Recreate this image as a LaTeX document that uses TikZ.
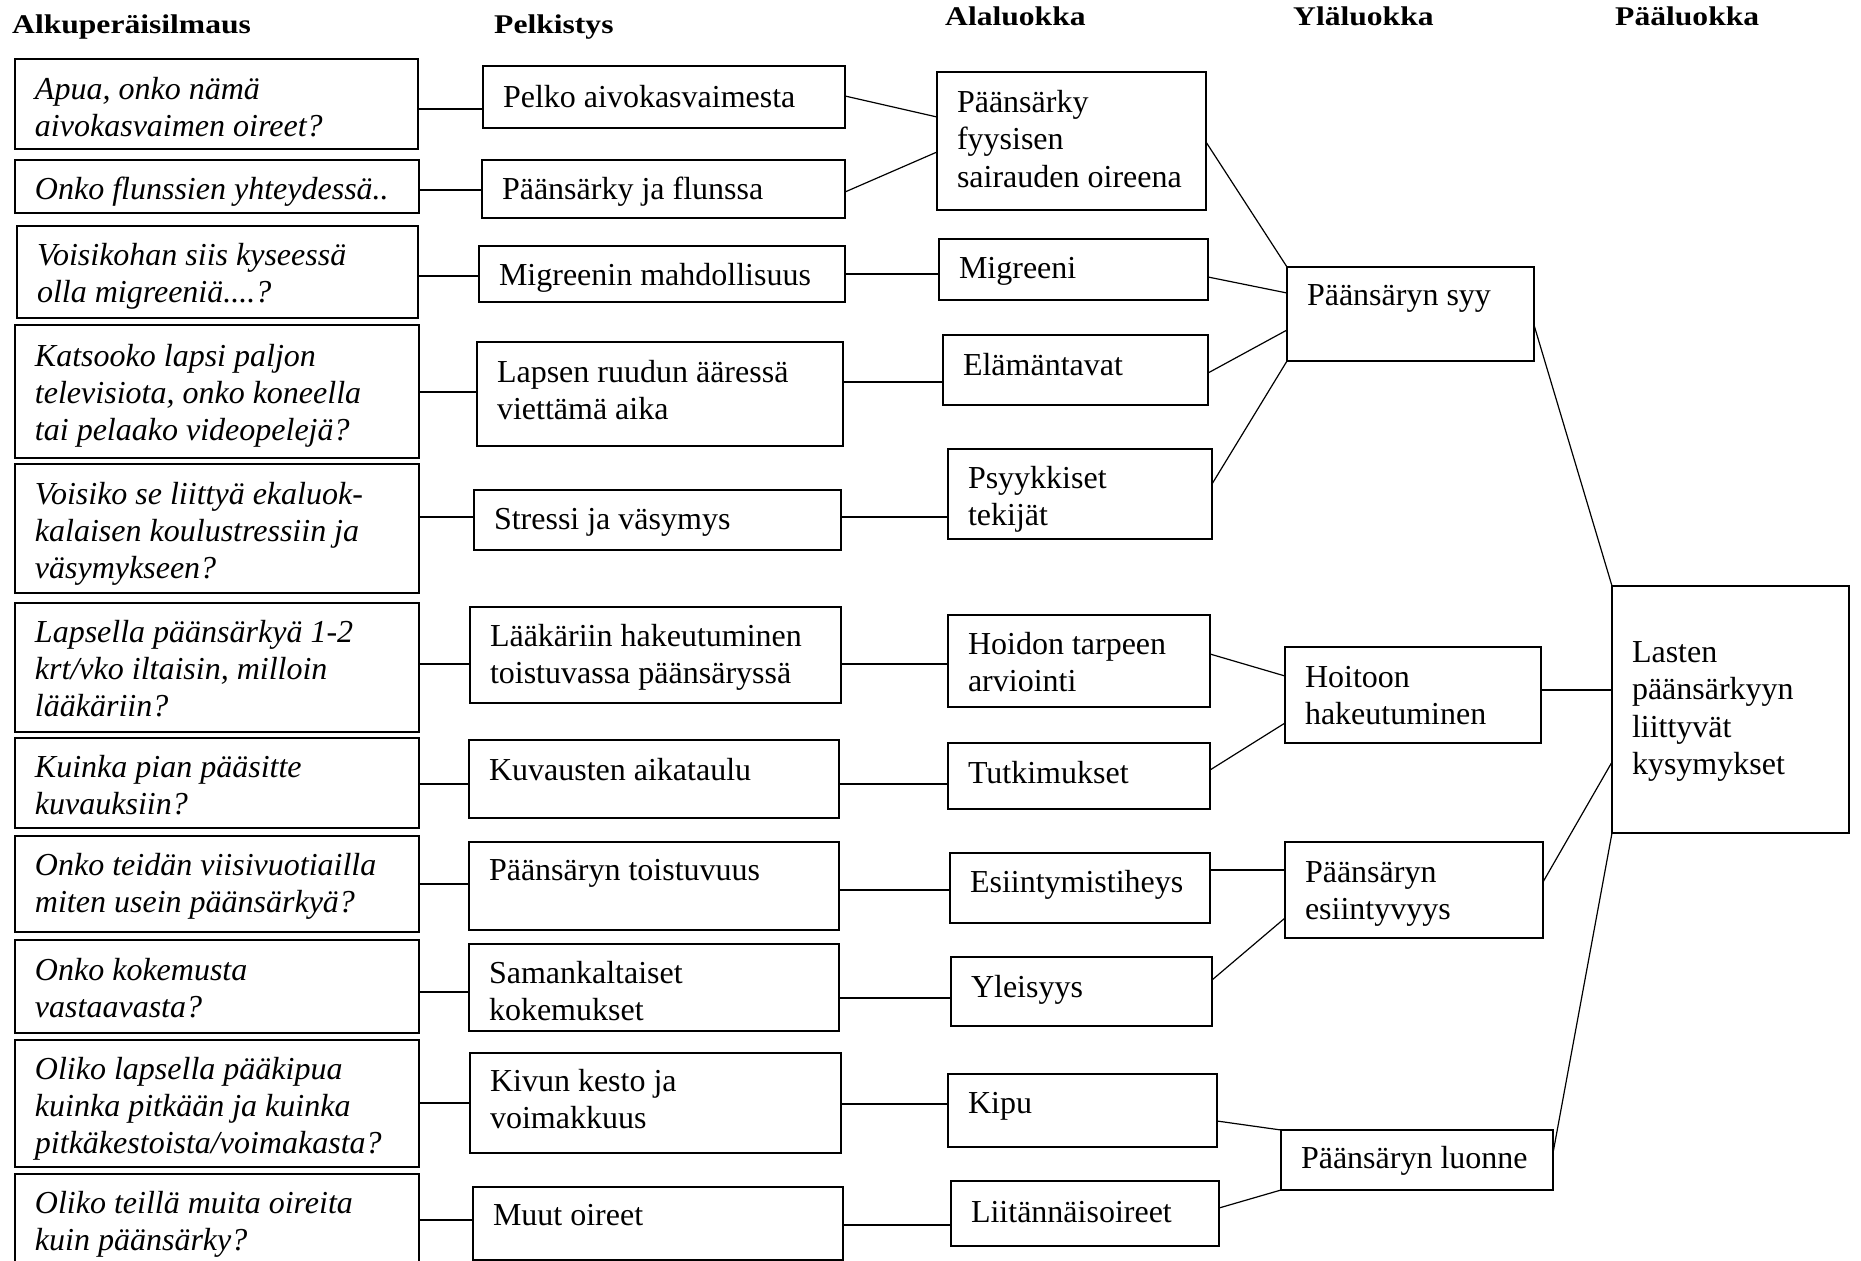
\documentclass[tikz,border=0pt]{standalone}
\usepackage{fontspec}
\setmainfont{Liberation Serif}
\newfontfamily\headfont{Liberation Serif}[FakeStretch=1.17]
\tikzset{
 boxst/.style={draw, line width=1.3pt, inner sep=0pt, outer sep=0pt, anchor=north west, font=\fontsize{32}{37.5}\selectfont},
 qbox/.style={boxst, font=\fontsize{32}{37}\selectfont\itshape},
 hline/.style={line width=1.6pt},
 dline/.style={line width=1.2pt},
 head/.style={anchor=base west, inner sep=0pt, font=\headfont\bfseries\fontsize{27}{30}\selectfont}
}
\newcommand{\bx}[8]{\node[#1] (#2) at (#3,#4) {\parbox[t][\dimexpr #6pt-#4pt\relax][t]{\dimexpr #5pt-#3pt\relax}{\raggedright\leftskip=20pt\rule{0pt}{#7pt}#8}};}
\begin{document}
\begin{tikzpicture}[x=1pt,y=-1pt]
\useasboundingbox (0,0) rectangle (1861,1261);
\fill[white] (0,0) rectangle (1861,1261);
% headings
\node[head] (h1) at (12,33) {Alkuperäisilmaus};
\node[head] (h2) at (494,33) {Pelkistys};
\node[head] (h3) at (945,25) {Alaluokka};
\node[head] (h4) at (1293,25) {Yläluokka};
\node[head] (h5) at (1615,25) {Pääluokka};
% original expressions
\bx{qbox}{A1}{15}{59}{418}{149}{40}{Apua, onko nämä\\aivokasvaimen oireet?}
\bx{qbox}{A2}{15}{160}{419}{213}{39}{Onko flunssien yhteydessä..}
\bx{qbox}{A3}{17}{226}{418}{318}{39}{Voisikohan siis kyseessä\\olla migreeniä....?}
\bx{qbox}{A4}{15}{325}{419}{458}{41}{Katsooko lapsi paljon\\televisiota, onko koneella\\tai pelaako videopelejä?}
\bx{qbox}{A5}{15}{464}{419}{593}{40}{Voisiko se liittyä ekaluok-\\kalaisen koulustressiin ja\\väsymykseen?}
\bx{qbox}{A6}{15}{603}{419}{732}{39}{Lapsella päänsärkyä 1-2\\krt/vko iltaisin, milloin\\lääkäriin?}
\bx{qbox}{A7}{15}{738}{419}{828}{39}{Kuinka pian pääsitte\\kuvauksiin?}
\bx{qbox}{A8}{15}{836}{419}{932}{39}{Onko teidän viisivuotiailla\\miten usein päänsärkyä?}
\bx{qbox}{A9}{15}{940}{419}{1033}{40}{Onko kokemusta\\vastaavasta?}
\bx{qbox}{A10}{15}{1040}{419}{1167}{39}{Oliko lapsella pääkipua\\kuinka pitkään ja kuinka\\pitkäkestoista/voimakasta?}
\bx{qbox}{A11}{15}{1174}{419}{1270}{39}{Oliko teillä muita oireita\\kuin päänsärky?}
% reductions
\bx{boxst}{P1}{483}{66}{845}{128}{41}{Pelko aivokasvaimesta}
\bx{boxst}{P2}{482}{160}{845}{218}{39}{Päänsärky ja flunssa}
\bx{boxst}{P3}{479}{246}{845}{302}{39}{Migreenin mahdollisuus}
\bx{boxst}{P4}{477}{342}{843}{446}{40}{Lapsen ruudun ääressä\\viettämä aika}
\bx{boxst}{P5}{474}{490}{841}{550}{39}{Stressi ja väsymys}
\bx{boxst}{P6}{470}{607}{841}{703}{39}{Lääkäriin hakeutuminen\\toistuvassa päänsäryssä}
\bx{boxst}{P7}{469}{740}{839}{818}{40}{Kuvausten aikataulu}
\bx{boxst}{P8}{469}{842}{839}{930}{38}{Päänsäryn toistuvuus}
\bx{boxst}{P9}{469}{944}{839}{1031}{39}{Samankaltaiset\\kokemukset}
\bx{boxst}{P10}{470}{1053}{841}{1153}{38}{Kivun kesto ja\\voimakkuus}
\bx{boxst}{P11}{473}{1187}{843}{1260}{38}{Muut oireet}
% subcategories
\bx{boxst}{S1}{937}{72}{1206}{210}{40}{Päänsärky\\fyysisen\\sairauden oireena}
\bx{boxst}{S2}{939}{239}{1208}{300}{39}{Migreeni}
\bx{boxst}{S3}{943}{335}{1208}{405}{40}{Elämäntavat}
\bx{boxst}{S4}{948}{449}{1212}{539}{39}{Psyykkiset\\tekijät}
\bx{boxst}{S5}{948}{615}{1210}{707}{39}{Hoidon tarpeen\\arviointi}
\bx{boxst}{S6}{948}{743}{1210}{809}{40}{Tutkimukset}
\bx{boxst}{S7}{950}{853}{1210}{923}{39}{Esiintymistiheys}
\bx{boxst}{S8}{951}{957}{1212}{1026}{40}{Yleisyys}
\bx{boxst}{S9}{948}{1074}{1217}{1147}{39}{Kipu}
\bx{boxst}{S10}{951}{1181}{1219}{1246}{41}{Liitännäisoireet}
% upper categories
\bx{boxst}{Y1}{1287}{267}{1534}{361}{38}{Päänsäryn syy}
\bx{boxst}{Y2}{1285}{647}{1541}{743}{40}{Hoitoon\\hakeutuminen}
\bx{boxst}{Y3}{1285}{842}{1543}{938}{40}{Päänsäryn\\esiintyvyys}
\bx{boxst}{Y4}{1281}{1130}{1553}{1190}{38}{Päänsäryn luonne}
% main category
\bx{boxst}{M}{1612}{586}{1849}{833}{76}{Lasten\\päänsärkyyn\\liittyvät\\kysymykset}
% A - P connectors
\draw[hline] (A1.east |- 0,109) -- (P1.west |- 0,109);
\draw[hline] (A2.east |- 0,190) -- (P2.west |- 0,190);
\draw[hline] (A3.east |- 0,276) -- (P3.west |- 0,276);
\draw[hline] (A4.east |- 0,392) -- (P4.west |- 0,392);
\draw[hline] (A5.east |- 0,517) -- (P5.west |- 0,517);
\draw[hline] (A6.east |- 0,664) -- (P6.west |- 0,664);
\draw[hline] (A7.east |- 0,784) -- (P7.west |- 0,784);
\draw[hline] (A8.east |- 0,884) -- (P8.west |- 0,884);
\draw[hline] (A9.east |- 0,992) -- (P9.west |- 0,992);
\draw[hline] (A10.east |- 0,1103) -- (P10.west |- 0,1103);
\draw[hline] (A11.east |- 0,1220) -- (P11.west |- 0,1220);
% P - S connectors
\draw[dline] (P1.east |- 0,96) -- (S1.west |- 0,117);
\draw[dline] (P2.east |- 0,192) -- (S1.west |- 0,152);
\draw[hline] (P3.east |- 0,274) -- (S2.west |- 0,274);
\draw[hline] (P4.east |- 0,382) -- (S3.west |- 0,382);
\draw[hline] (P5.east |- 0,517) -- (S4.west |- 0,517);
\draw[hline] (P6.east |- 0,664) -- (S5.west |- 0,664);
\draw[hline] (P7.east |- 0,784) -- (S6.west |- 0,784);
\draw[hline] (P8.east |- 0,890) -- (S7.west |- 0,890);
\draw[hline] (P9.east |- 0,998) -- (S8.west |- 0,998);
\draw[hline] (P10.east |- 0,1104) -- (S9.west |- 0,1104);
\draw[hline] (P11.east |- 0,1225) -- (S10.west |- 0,1225);
% S - Y connectors
\draw[dline] (S1.east |- 0,142) -- (Y1.north west);
\draw[dline] (S2.east |- 0,277) -- (Y1.west |- 0,293);
\draw[dline] (S3.east |- 0,373) -- (Y1.west |- 0,330);
\draw[dline] (S4.east |- 0,484) -- (Y1.south west);
\draw[dline] (S5.east |- 0,654) -- (Y2.west |- 0,676);
\draw[dline] (S6.east |- 0,770) -- (Y2.west |- 0,723);
\draw[hline] (S7.east |- 0,870) -- (Y3.west |- 0,870);
\draw[dline] (S8.east |- 0,980) -- (Y3.west |- 0,918);
\draw[dline] (S9.east |- 0,1121) -- (Y4.north west);
\draw[dline] (S10.east |- 0,1208) -- (Y4.south west);
% Y - M connectors
\draw[dline] (Y1.east |- 0,325) -- (M.north west);
\draw[hline] (Y2.east |- 0,690) -- (M.west |- 0,690);
\draw[dline] (Y3.east |- 0,882) -- (M.west |- 0,762);
\draw[dline] (Y4.east |- 0,1153) -- (M.south west);
\end{tikzpicture}
\end{document}
